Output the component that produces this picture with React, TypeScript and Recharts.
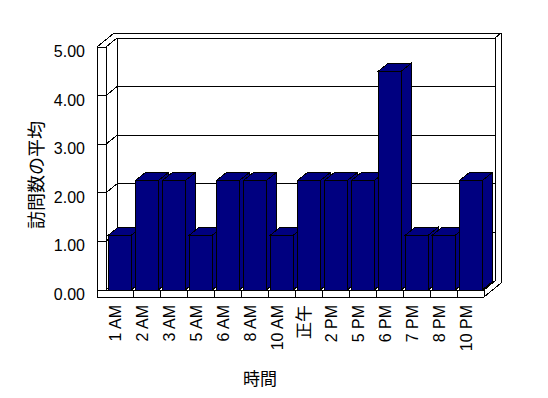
import { BarChart, Bar, XAxis, YAxis, CartesianGrid } from "recharts";

// hourly averages of visits
const HOURS = ["1 AM", "2 AM", "3 AM", "5 AM", "6 AM", "8 AM", "10 AM", "正午", "2 PM", "5 PM", "6 PM", "7 PM", "8 PM", "10 PM"];
const VISITS = [1.125, 2.25, 2.25, 1.125, 2.25, 2.25, 1.125, 2.25, 2.25, 2.25, 4.5, 1.125, 1.125, 2.25];
const Y_TICKS = [0, 1, 2, 3, 4, 5];

const data = HOURS.map((hour, i) => ({ hour, visits: VISITS[i] }));

// layout
const W = 548;
const H = 398;
const L = 106; // plot left (front)
const T = 47; // plot top (front)
const R = 484; // plot right (front)
const B = 290; // plot bottom (front)
const DX = 11; // wall depth
const DY = 9;
const WALL = 9; // left wall slab thickness
const FLOOR = 7; // floor slab thickness
const BACK_X = 6; // back wall thickness
const BACK_Y = 5;
const BAR_DX = 10;
const BAR_DY = 8;
const NAVY = "#000080";
const FONT = "'Liberation Sans', Arial, 'Noto Sans CJK JP', sans-serif";
const CJK = "'Noto Sans CJK JP', sans-serif";

function Bar3D(props: any) {
  const { x, y, width, height } = props;
  if (width == null || height == null) return null;
  const x2 = x + width;
  const y2 = y + height;
  return (
    <g stroke="#000" strokeWidth={1} fill={NAVY} shapeRendering="crispEdges">
      <polygon points={`${x2},${y} ${x2 + BAR_DX},${y - BAR_DY} ${x2 + BAR_DX},${y2 - BAR_DY} ${x2},${y2}`} />
      <polygon points={`${x},${y} ${x + BAR_DX},${y - BAR_DY} ${x2 + BAR_DX},${y - BAR_DY} ${x2},${y}`} />
      <rect x={x} y={y} width={width} height={height} />
    </g>
  );
}

// back wall gridline + diagonal on the left wall
function GridLine(props: any) {
  const { x1, x2, y1 } = props;
  return (
    <g stroke="#000" strokeWidth={1} shapeRendering="crispEdges" key={props.key}>
      <line x1={x1} y1={y1} x2={x1 + DX} y2={y1 - DY} />
      <line x1={x1 + DX} y1={y1 - DY} x2={x2 + DX} y2={y1 - DY} />
    </g>
  );
}

function YTick(props: any) {
  const { x, y, payload } = props;
  return (
    <text x={x} y={y + 10} textAnchor="end" fontSize={16} fontFamily={FONT} fill="#000">
      {payload.value.toFixed(2)}
    </text>
  );
}

function XTick(props: any) {
  const { x, y, payload } = props;
  const half = (R - L) / HOURS.length / 2;
  const tx = x + 1;
  const ty = y + 15;
  const cjk = /[^\x00-\x7f]/.test(payload.value);
  return (
    <g>
      <line x1={x + half} y1={y} x2={x + half} y2={y + FLOOR} stroke="#000" shapeRendering="crispEdges" />
      <text
        x={tx}
        y={ty}
        textAnchor="end"
        fontSize={cjk ? 17 : 16}
        fontFamily={cjk ? CJK : FONT}
        fill="#000"
        transform={`rotate(-90, ${tx}, ${ty})`}
      >
        {payload.value}
      </text>
    </g>
  );
}

function Frame() {
  const ox = L - WALL;
  const bx = R + DX + BACK_X;
  const by = T - DY - BACK_Y;
  return (
    <svg width={W} height={H} style={{ position: "absolute", left: 0, top: 0 }}>
      <g stroke="#000" strokeWidth={1} fill="none" shapeRendering="crispEdges">
        {/* left wall */}
        <line x1={ox} y1={T} x2={ox} y2={B + FLOOR} />
        <line x1={ox} y1={T} x2={L} y2={T} />
        <line x1={ox} y1={T} x2={L - WALL + DX + BACK_X} y2={by} />
        <line x1={L + DX} y1={T - DY} x2={L + DX} y2={B - DY} />
        {/* back wall outer */}
        <line x1={L - WALL + DX + BACK_X} y1={by} x2={bx} y2={by} />
        <line x1={bx} y1={by} x2={bx} y2={B + FLOOR - DY - BACK_Y} />
        <line x1={R + DX} y1={T - DY} x2={R + DX} y2={B - DY} />
        <line x1={R + DX} y1={T - DY} x2={bx} y2={by} />
        {/* floor */}
        <line x1={ox} y1={B} x2={L} y2={B} />
        <line x1={ox} y1={B + FLOOR} x2={R} y2={B + FLOOR} />
        <line x1={R} y1={B} x2={R} y2={B + FLOOR} />
        <line x1={R} y1={B} x2={R + DX} y2={B - DY} />
        <line x1={R} y1={B + FLOOR} x2={bx} y2={B + FLOOR - DY - BACK_Y} />
      </g>
      <text
        x={35}
        y={175}
        textAnchor="middle"
        dominantBaseline="central"
        fontSize={18}
        fontFamily={CJK}
        fill="#000"
        transform="rotate(-90, 35, 175)"
      >
        訪問数の平均
      </text>
      <text x={260} y={377} textAnchor="middle" dominantBaseline="central" fontSize={17} fontFamily={CJK} fill="#000">
        時間
      </text>
    </svg>
  );
}

export default function App() {
  return (
    <div style={{ position: "absolute", left: 0, top: 0, width: W, height: H, background: "#fff" }}>
      <Frame />
      <div style={{ position: "absolute", left: 0, top: 0 }}>
        <BarChart
          width={W}
          height={H}
          data={data}
          margin={{ top: T, right: W - R, bottom: H - B - 60, left: L - 60 }}
          barCategoryGap="8%"
        >
          <CartesianGrid vertical={false} horizontal={(p: any) => <GridLine {...p} />} />
          <XAxis
            dataKey="hour"
            height={60}
            interval={0}
            tickLine={false}
            tickSize={0}
            tickMargin={0}
            axisLine={{ stroke: "#000", shapeRendering: "crispEdges" }}
            tick={<XTick />}
          />
          <YAxis
            width={60}
            domain={[0, 5]}
            ticks={Y_TICKS}
            interval={0}
            tickSize={WALL}
            tickMargin={12}
            tickLine={{ stroke: "#000", shapeRendering: "crispEdges" }}
            axisLine={{ stroke: "#000", shapeRendering: "crispEdges" }}
            tick={<YTick />}
          />
          <Bar dataKey="visits" shape={<Bar3D />} isAnimationActive={false} />
        </BarChart>
      </div>
    </div>
  );
}
